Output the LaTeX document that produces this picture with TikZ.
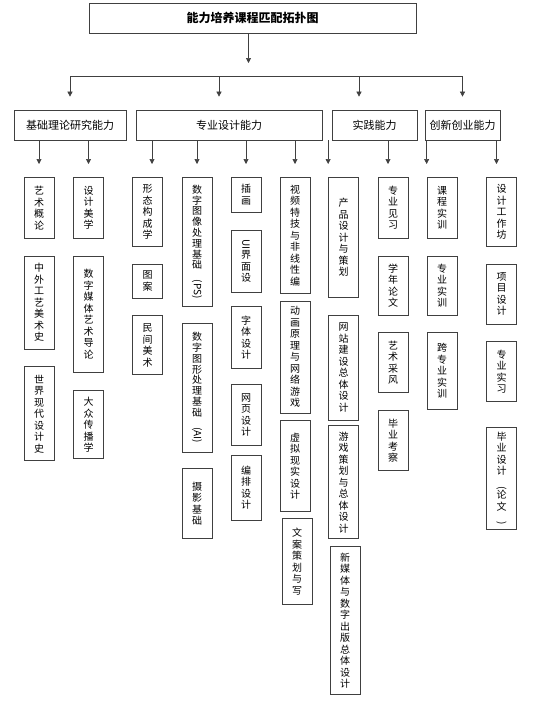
\documentclass[tikz,border=0pt]{standalone}
\usepackage{fontspec}
\setmainfont{Noto Sans CJK SC}
\usepackage{graphicx}
\usepackage{tikz}
\usetikzlibrary{positioning,calc,arrows.meta}
\definecolor{linegray}{HTML}{404040}

% one character per line, for the narrow course boxes
\ExplSyntaxOn
\NewDocumentCommand\vtext{O{11.5}m}{\vbox{\fontsize{10}{#1}\selectfont
  \tl_map_inline:nn{#2}{\hbox~to~1em{\hss##1\hss}}}}
\ExplSyntaxOff
\newcommand\rot[1]{\rotatebox{-90}{#1}}

\begin{document}
\begin{tikzpicture}[x=1pt, y=-1pt,
  title/.style={draw=linegray, line width=0.7pt, minimum width=327pt,
                minimum height=30pt, font=\fontsize{12}{14}\selectfont\bfseries},
  ability/.style={draw=linegray, line width=0.7pt, minimum height=30pt,
                  font=\fontsize{11}{13}\selectfont},
  course/.style={draw=linegray, line width=0.7pt, minimum width=30pt, inner sep=0pt},
  wire/.style={draw=linegray, line width=0.6pt},
  arr/.style={wire, -{Triangle[length=5pt,width=5pt]}, shorten >=13pt}
]
  \path[use as bounding box, fill=white] (0,0) rectangle (550,704);

  % title and the four abilities
  \node[title] (top) at (252.5,18) {能力培养课程匹配拓扑图};
  \coordinate (bus) at (0,76);
  \node[ability, minimum width=112pt] (jc) at (70,125)    {基础理论研究能力};
  \node[ability, minimum width=186pt] (zy) at (229,125)   {专业设计能力};
  \node[ability, minimum width=85pt]  (sj) at (374.5,125) {实践能力};
  \node[ability, minimum width=75pt]  (cx) at (462.5,125) {创新创业能力};

  \draw[arr] ($(top.south)+(-4,0)$) -- ($(top.south |- bus)+(-4,0)$);
  \draw[wire] (jc.north |- bus) -- (cx.north |- bus);
  \draw[arr] (jc.north |- bus) -- (jc.north);
  \draw[arr] ($(zy.north |- bus)+(-10,0)$) -- ($(zy.north)+(-10,0)$);
  \draw[arr] ($(sj.north |- bus)+(-15.5,0)$) -- ($(sj.north)+(-15.5,0)$);
  \draw[arr] (cx.north |- bus) -- (cx.north);

  % 基础理论研究能力
  \node[course, minimum height=61pt, anchor=north] (a1) at (39,177) {\vtext{艺术概论}};
  \node[course, minimum height=93pt, below=17pt of a1] (a2) {\vtext{中外工艺美术史}};
  \node[course, minimum height=94pt, below=17pt of a2] (a3) {\vtext{世界现代设计史}};
  \node[course, minimum height=61pt, anchor=north] (b1) at (88.5,177) {\vtext{设计美学}};
  \node[course, minimum height=116pt, below=17pt of b1] (b2) {\vtext{数字媒体艺术导论}};
  \node[course, minimum height=68pt, below=18pt of b2] (b3) {\vtext{大众传播学}};

  % 专业设计能力
  \node[course, minimum height=69pt, anchor=north] (c1) at (147.5,177) {\vtext{形态构成学}};
  \node[course, minimum height=34pt, below=17pt of c1] (c2) {\vtext{图案}};
  \node[course, minimum height=59pt, below=17pt of c2] (c3) {\vtext{民间美术}};
  \node[course, minimum height=129pt, anchor=north] (d1) at (197,177) {\vtext[10.8]{数字图像处理基础{\rot{(PS)}}}};
  \node[course, minimum height=129pt, below=16pt of d1] (d2) {\vtext[10.8]{数字图形处理基础{\rot{(AI)}}}};
  \node[course, minimum height=70pt, below=16pt of d2] (d3) {\vtext{摄影基础}};
  \node[course, minimum height=35pt, anchor=north] (e1) at (246,177) {\vtext{插画}};
  \node[course, minimum height=62pt, below=17pt of e1] (e2) {\vtext{{\rot{UI}}界面设}};
  \node[course, minimum height=62pt, below=14pt of e2] (e3) {\vtext{字体设计}};
  \node[course, minimum height=61pt, below=15pt of e3] (e4) {\vtext{网页设计}};
  \node[course, minimum height=65pt, below=9pt of e4] (e5) {\vtext{编排设计}};
  \node[course, minimum height=116pt, anchor=north] (f1) at (295,177) {\vtext{视频特技与非线性编}};
  \node[course, minimum height=112pt, below=7pt of f1] (f2) {\vtext{动画原理与网络游戏}};
  \node[course, minimum height=91pt, below=7pt of f2] (f3) {\vtext{虚拟现实设计}};
  \node[course, minimum height=86pt, below=6pt of f3, xshift=2pt] (f4) {\vtext{文案策划与写}};
  \node[course, minimum height=120pt, anchor=north] (g1) at (343.5,177) {\vtext{产品设计与策划}};
  \node[course, minimum height=105pt, below=17pt of g1] (g2) {\vtext{网站建设总体设计}};
  \node[course, minimum height=113pt, below=5pt of g2] (g3) {\vtext{游戏策划与总体设计}};
  \node[course, minimum height=148pt, below=7pt of g3, xshift=1.5pt] (g4) {\vtext{新媒体与数字出版总体设计}};

  % 实践能力
  \node[course, minimum height=61pt, anchor=north] (h1) at (393,177) {\vtext{专业见习}};
  \node[course, minimum height=59pt, below=17pt of h1] (h2) {\vtext{学年论文}};
  \node[course, minimum height=60pt, below=17pt of h2] (h3) {\vtext{艺术采风}};
  \node[course, minimum height=60pt, below=17pt of h3] (h4) {\vtext{毕业考察}};
  \node[course, minimum height=61pt, anchor=north] (i1) at (442,177) {\vtext{课程实训}};
  \node[course, minimum height=59pt, below=17pt of i1] (i2) {\vtext{专业实训}};
  \node[course, minimum height=77pt, below=17pt of i2] (i3) {\vtext{跨专业实训}};

  % 创新创业能力
  \node[course, minimum height=69pt, anchor=north] (k1) at (501.5,177) {\vtext{设计工作坊}};
  \node[course, minimum height=60pt, below=17pt of k1] (k2) {\vtext{项目设计}};
  \node[course, minimum height=60pt, below=17pt of k2] (k3) {\vtext{专业实习}};
  \node[course, minimum height=102pt, below=25pt of k3] (k4) {\vtext{毕业设计{\rot{(}}论文{\rot{)}}}};

  % abilities to first courses
  \draw[arr] (jc.south -| a1.north) -- (a1.north);
  \draw[arr] (jc.south -| b1.north) -- (b1.north);
  \draw[arr] ($(zy.south -| c1.north)+(4.5,0)$) -- ($(c1.north)+(4.5,0)$);
  \draw[arr] (zy.south -| d1.north) -- (d1.north);
  \draw[arr] (zy.south -| e1.north) -- (e1.north);
  \draw[arr] (zy.south -| f1.north) -- (f1.north);
  \draw[arr] (zy.south -| g1.north west) -- (g1.north west);
  \draw[arr] ($(sj.south -| h1.north)+(-5,0)$) -- ($(h1.north)+(-5,0)$);
  \draw[arr] (sj.south -| i1.north west) -- (i1.north west);
  \draw[arr] ($(cx.south -| k1.north)+(-5,0)$) -- ($(k1.north)+(-5,0)$);
\end{tikzpicture}
\end{document}
